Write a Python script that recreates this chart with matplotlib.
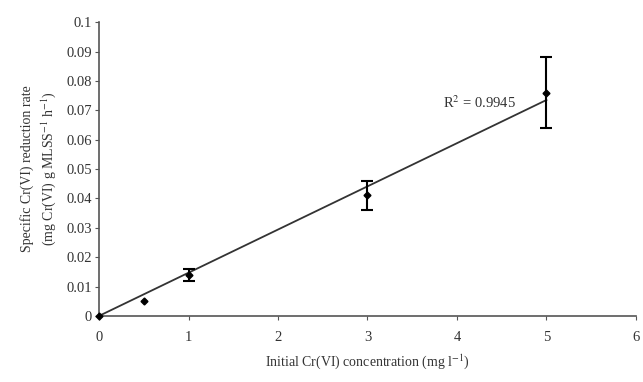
import numpy as np
import matplotlib.pyplot as plt

plt.rcParams['font.family'] = ['Liberation Serif', 'DejaVu Serif']
plt.rcParams['mathtext.fontset'] = 'stix'

# data
conc = [0, 0.5, 1, 3, 5]
rate = [0.0, 0.005, 0.014, 0.041, 0.076]
err = [0.0, 0.0, 0.002, 0.005, 0.012]
fit_x = [0, 5]
fit_y = [0.0, 0.0735]
r2_text = 'R$^2$ = 0.9945'

fig = plt.figure(figsize=(6.43, 3.82), dpi=100)
ax = fig.add_axes([0.154, 0.173, 0.835, 0.769])

ax.plot(fit_x, fit_y, color='#333333', lw=1.3, zorder=2)

# error bars only where there is a spread
c = np.array(conc)
r = np.array(rate)
e = np.array(err)
has_err = e > 0
ax.errorbar(c[has_err], r[has_err], yerr=e[has_err], fmt='none',
            ecolor='black', elinewidth=1.5, capsize=4, capthick=1.5, zorder=3)
ax.plot(conc, rate, 'D', color='black', ms=3.5, zorder=4, clip_on=False)

ax.text(4.25, 0.0725, r2_text, ha='center', va='center', fontsize=10.5, color='#333333')

ax.set_xlim(0, 6)
ax.set_ylim(0, 0.1)
ax.set_xticks(range(7))
ax.set_yticks(np.arange(0, 0.101, 0.01))
ax.set_yticklabels(['0', '0.01', '0.02', '0.03', '0.04', '0.05', '0.06',
                    '0.07', '0.08', '0.09', '0.1'])

ax.spines['top'].set_visible(False)
ax.spines['right'].set_visible(False)
for s in ['left', 'bottom']:
    ax.spines[s].set_color('#555555')
    ax.spines[s].set_linewidth(1.2)
ax.tick_params(direction='out', length=3, color='#555555', labelsize=10.5,
               labelcolor='#333333')
ax.tick_params(axis='y', pad=2)
ax.tick_params(axis='x', pad=8)

ax.set_xlabel('Initial Cr(VI) concentration (mg l$^{-1}$)', fontsize=10,
              color='#333333', labelpad=6)
ax.set_ylabel('Specific Cr(VI) reduction rate\n(mg Cr(VI) g MLSS$^{-1}$ h$^{-1}$)',
              fontsize=10, color='#333333', labelpad=6, linespacing=1.4)

plt.savefig('out.png', dpi=100)
